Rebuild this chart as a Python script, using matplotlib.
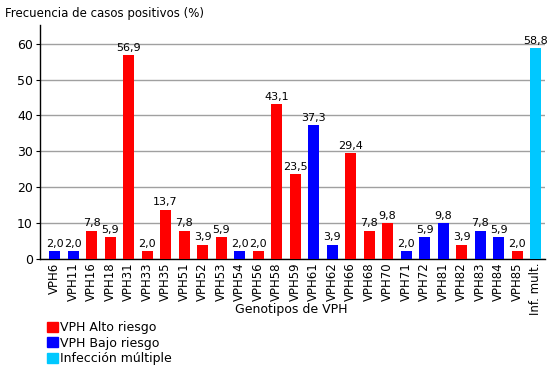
import numpy as np
import matplotlib
matplotlib.use("Agg")
import matplotlib.pyplot as plt
from matplotlib.patches import Patch

# datos
genotipos = ["VPH6", "VPH11", "VPH16", "VPH18", "VPH31", "VPH33", "VPH35", "VPH51",
             "VPH52", "VPH53", "VPH54", "VPH56", "VPH58", "VPH59", "VPH61", "VPH62",
             "VPH66", "VPH68", "VPH70", "VPH71", "VPH72", "VPH81", "VPH82", "VPH83",
             "VPH84", "VPH85", "Inf. mult."]
frecuencia = [2.0, 2.0, 7.8, 5.9, 56.9, 2.0, 13.7, 7.8, 3.9, 5.9, 2.0, 2.0, 43.1, 23.5,
              37.3, 3.9, 29.4, 7.8, 9.8, 2.0, 5.9, 9.8, 3.9, 7.8, 5.9, 2.0, 58.8]
riesgo = ["B", "B", "A", "A", "A", "A", "A", "A", "A", "A", "B", "A", "A", "A", "B", "B",
          "A", "A", "A", "B", "B", "B", "A", "B", "B", "A", "M"]

colores = {"A": "#ff0000", "B": "#0000ff", "M": "#00c8ff"}
nombres = {"A": "VPH Alto riesgo", "B": "VPH Bajo riesgo", "M": "Infección múltiple"}

plt.rcParams['font.family'] = ['DejaVu Sans']
fig = plt.figure(figsize=(5.6, 3.72), dpi=100)
ax = fig.add_axes([0.071, 0.305, 0.902, 0.628])

x = np.arange(len(genotipos))
ax.bar(x, frecuencia, width=0.6, color=[colores[r] for r in riesgo], zorder=3)
for xi, v in zip(x, frecuencia):
    ax.text(xi, v + 0.6, f"{v:.1f}".replace(".", ","), ha="center", va="bottom", fontsize=8)

ax.set_xlim(-0.8, 26.5)
ax.set_ylim(0, 65.3)
ax.set_yticks(range(0, 61, 10))
ax.tick_params(axis="y", labelsize=9, length=3, pad=2)
ax.set_xticks(x)
ax.set_xticklabels(genotipos, rotation=90, fontsize=8.5)
ax.tick_params(axis="x", length=0, pad=3)
ax.yaxis.grid(True, color="#a0a0a0", linewidth=1, zorder=0)
for s in ["top", "right"]:
    ax.spines[s].set_visible(False)
ax.spines["left"].set_linewidth(1)
ax.spines["bottom"].set_linewidth(1)

fig.text(0.009, 0.982, "Frecuencia de casos positivos (%)", fontsize=8.5, va="top", ha="left")
fig.text(0.52, 0.167, "Genotipos de VPH", fontsize=9, ha="center", va="center")

handles = [Patch(color=colores[k], label=nombres[k]) for k in ["A", "B", "M"]]
fig.legend(handles=handles, loc="upper left", bbox_to_anchor=(0.084, 0.137), frameon=False,
           fontsize=9, handlelength=0.85, handleheight=0.85, handletextpad=0.2,
           labelspacing=0.2, borderaxespad=0, borderpad=0)

plt.savefig("out.png", dpi=100)
